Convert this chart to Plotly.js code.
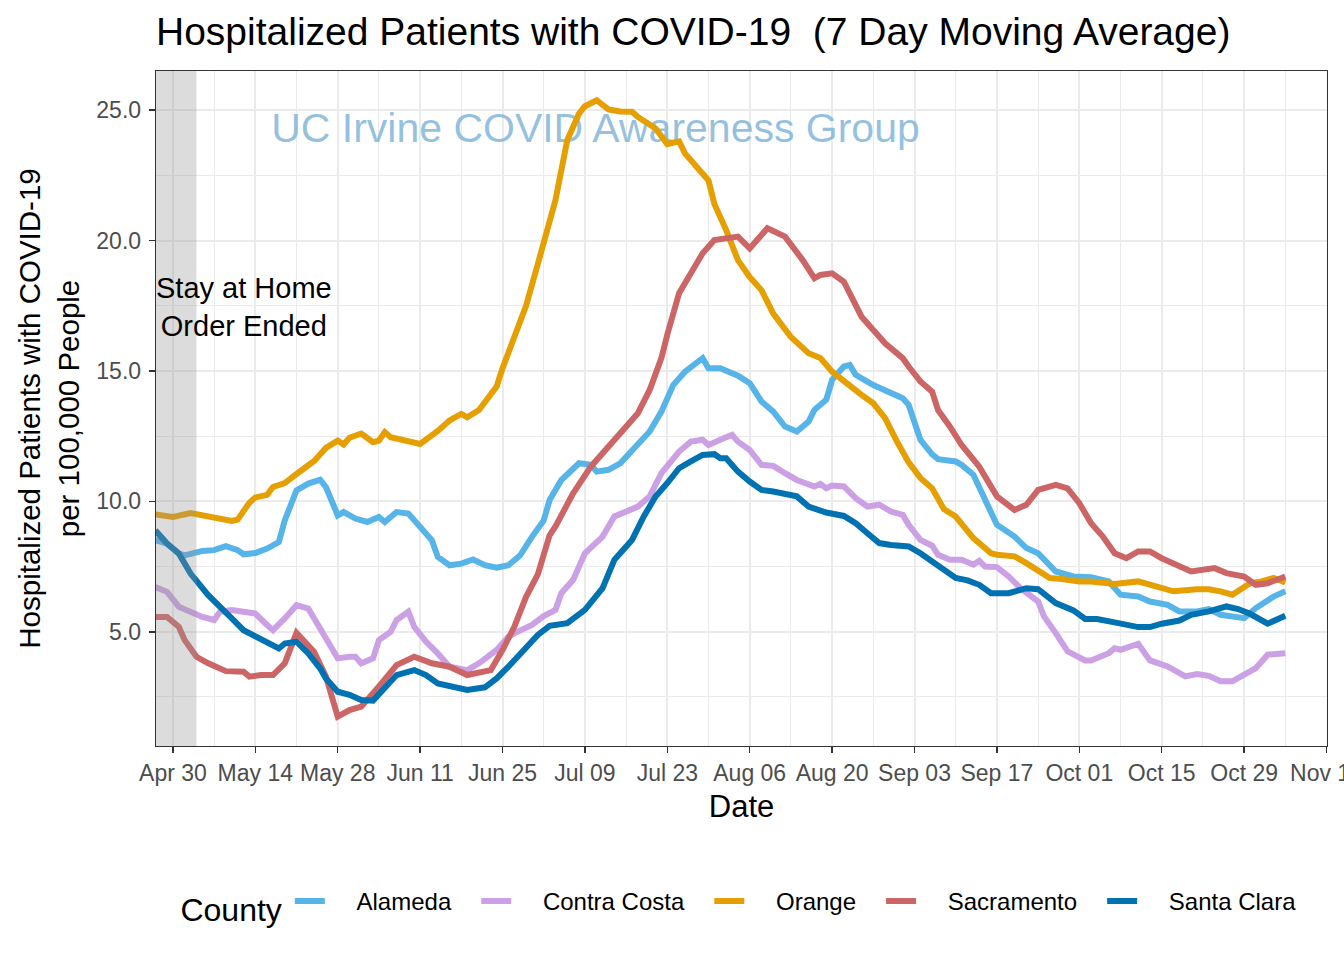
<!DOCTYPE html>
<html>
<head>
<meta charset="utf-8">
<script src="https://cdn.plot.ly/plotly-3.0.1.min.js"></script>
<style>html,body{margin:0;padding:0;background:#fff;}#chart{width:1344px;height:960px;}</style>
</head>
<body>
<div id="chart"></div>
<script>
// Day offsets are counted from 2020-04-27
const startDate = '2020-04-27';
const counties = ['Alameda', 'Contra Costa', 'Orange', 'Sacramento', 'Santa Clara'];
const colors = ['#56B4E9', '#CBA0E5', '#E69F00', '#CC6666', '#0072B2'];

const alamedaDays = [0,2,4,5,8,10,12,14,15,17,19,21,22,24,26,28,29,31,32,34,36,38,39,41,43,46,47,48,50,52,54,56,58,60,62,64,66,67,69,72,74,75,77,79,81,84,86,88,90,92,93,94,96,98,99,101,103,105,107,109,111,112,114,115,117,118,119,122,124,127,128,129,130,132,133,136,137,139,141,143,146,148,150,153,156,159,162,164,167,169,172,174,177,179,181,185,187,190,192];
const alamedaVals = [8.51,8.38,8.0,7.93,8.1,8.13,8.28,8.13,7.97,8.02,8.19,8.44,9.27,10.42,10.68,10.83,10.55,9.46,9.59,9.34,9.21,9.4,9.21,9.59,9.53,8.76,8.51,7.87,7.55,7.61,7.77,7.55,7.46,7.55,7.93,8.64,9.27,10.05,10.82,11.46,11.4,11.14,11.21,11.46,11.97,12.68,13.44,14.46,14.97,15.29,15.49,15.1,15.1,14.91,14.82,14.53,13.83,13.44,12.87,12.68,13.06,13.51,13.89,14.66,15.17,15.23,14.85,14.46,14.27,13.95,13.7,12.99,12.36,11.8,11.62,11.53,11.4,11.02,10.06,9.1,8.65,8.21,8.01,7.31,7.12,7.09,6.93,6.42,6.35,6.16,6.03,5.78,5.78,5.87,5.65,5.52,5.91,6.35,6.55];

const contraCostaDays = [0,2,4,6,8,10,11,13,15,17,19,20,22,24,26,27,29,31,33,34,35,37,38,40,41,43,44,46,48,50,53,55,58,60,61,64,66,68,69,71,73,76,78,82,84,86,89,91,93,94,96,98,99,101,103,105,107,109,112,113,114,115,117,119,121,123,125,127,128,130,132,133,135,137,139,140,141,143,145,147,150,151,153,155,158,159,162,163,164,167,169,172,175,177,179,181,183,185,187,189,192];
const contraCostaVals = [6.72,6.53,5.96,5.77,5.57,5.45,5.77,5.83,5.77,5.7,5.26,5.06,5.51,6.02,5.89,5.51,4.68,3.98,4.04,4.04,3.79,3.98,4.68,5.0,5.45,5.77,5.19,4.62,4.17,3.66,3.53,3.79,4.3,4.81,4.94,5.26,5.6,5.84,6.48,6.99,8.01,8.65,9.42,9.8,10.19,11.08,11.91,12.29,12.36,12.16,12.36,12.55,12.29,11.97,11.4,11.36,11.08,10.82,10.57,10.67,10.5,10.61,10.57,10.12,9.8,9.87,9.61,9.48,9.1,8.52,8.3,7.95,7.76,7.76,7.57,7.72,7.5,7.48,7.12,6.67,6.16,5.59,4.95,4.25,3.9,3.9,4.18,4.37,4.31,4.54,3.9,3.67,3.29,3.38,3.31,3.1,3.1,3.38,3.61,4.12,4.18];

const orangeDays = [0,3,6,9,13,14,16,17,19,20,22,24,27,29,31,32,33,35,37,38,39,40,43,45,48,50,52,53,55,56,58,59,61,63,65,68,70,72,73,75,77,79,81,82,85,87,89,90,94,95,97,99,101,103,105,108,111,113,115,117,120,122,124,126,128,130,132,134,136,139,140,142,143,146,148,152,154,157,159,163,167,170,173,177,179,181,183,186,188,190,192];
const orangeVals = [9.5,9.4,9.55,9.4,9.25,9.3,9.95,10.15,10.25,10.55,10.7,11.05,11.55,12.05,12.33,12.18,12.44,12.6,12.27,12.33,12.65,12.46,12.3,12.2,12.7,13.1,13.35,13.22,13.5,13.8,14.4,15.1,16.3,17.5,19.1,21.55,23.85,24.87,25.15,25.38,25.03,24.95,24.94,24.74,24.3,23.7,23.8,23.34,22.3,21.4,20.4,19.25,18.6,18.1,17.2,16.3,15.68,15.5,14.97,14.6,14.08,13.76,13.19,12.3,11.5,10.9,10.5,9.7,9.42,8.59,8.4,8.01,7.95,7.89,7.63,7.06,7.02,6.93,6.93,6.83,6.93,6.71,6.55,6.63,6.63,6.55,6.42,6.86,6.93,7.06,6.89];

const sacramentoDays = [0,2,4,5,7,9,12,15,16,18,20,22,24,27,29,31,33,35,38,41,44,47,50,53,57,59,61,63,65,67,68,71,74,78,82,84,86,87,89,93,95,99,101,104,107,110,112,113,115,117,120,124,127,128,130,132,133,135,137,140,143,146,148,150,153,155,157,159,161,163,165,167,169,171,173,176,180,182,185,187,189,192];
const sacramentoVals = [5.57,5.57,5.19,4.68,4.04,3.79,3.49,3.47,3.28,3.34,3.34,3.79,4.96,4.23,3.28,1.75,2.0,2.13,2.9,3.72,4.04,3.79,3.66,3.34,3.53,4.3,5.19,6.34,7.2,8.7,9.04,10.31,11.33,12.36,13.38,14.27,15.5,16.4,17.98,19.51,20.02,20.15,19.7,20.47,20.15,19.25,18.55,18.68,18.74,18.42,17.08,16.06,15.49,15.17,14.6,14.2,13.5,12.87,12.16,11.33,10.19,9.67,9.87,10.44,10.63,10.5,9.93,9.16,8.65,8.01,7.82,8.08,8.08,7.82,7.63,7.31,7.44,7.25,7.12,6.8,6.86,7.12];

const santaClaraDays = [0,2,4,6,9,12,13,15,18,21,22,24,26,28,29,31,33,35,37,39,41,44,46,48,50,53,56,58,60,63,65,67,70,73,76,78,81,83,85,87,89,91,93,95,96,97,99,101,103,105,107,109,111,114,117,119,121,123,125,128,130,132,134,136,138,140,142,145,148,150,153,156,158,160,163,164,167,169,171,174,176,179,182,184,186,189,192];
const santaClaraVals = [8.89,8.38,8.0,7.23,6.4,5.77,5.51,5.06,4.74,4.36,4.55,4.62,4.17,3.6,3.21,2.7,2.58,2.38,2.36,2.83,3.34,3.53,3.34,3.02,2.9,2.77,2.87,3.21,3.66,4.36,4.88,5.23,5.33,5.84,6.67,7.76,8.52,9.42,10.19,10.7,11.27,11.53,11.78,11.81,11.65,11.65,11.14,10.76,10.44,10.38,10.31,10.19,9.8,9.57,9.44,9.16,8.78,8.4,8.33,8.27,8.01,7.7,7.38,7.06,6.97,6.8,6.48,6.48,6.67,6.63,6.1,5.82,5.49,5.49,5.36,5.31,5.18,5.18,5.31,5.43,5.65,5.78,5.97,5.87,5.69,5.31,5.61];

const dayArrays = [alamedaDays, contraCostaDays, orangeDays, sacramentoDays, santaClaraDays];
const valArrays = [alamedaVals, contraCostaVals, orangeVals, sacramentoVals, santaClaraVals];

const stayAtHomeEnd = '2020-05-04';
const titleText = 'Hospitalized Patients with COVID-19  (7 Day Moving Average)';
const watermarkText = 'UC Irvine COVID Awareness Group';

function toDate(d) {
  const t = Date.UTC(2020, 3, 27) + d * 86400000;
  return new Date(t).toISOString().slice(0, 10);
}

const FONT = 'Liberation Sans, Arial, Helvetica, sans-serif';
const DAY = 86400000;
const NB = '\u00a0';

const traces = [];
// watermark as a text trace so the lines draw above it
traces.push({
  x: ['2020-07-10 19:00'], y: [24.16], mode: 'text', text: [watermarkText],
  textfont: {family: FONT, size: 41, color: 'rgba(120,176,214,0.78)'},
  showlegend: false, hoverinfo: 'skip', cliponaxis: false
});
counties.forEach((name, i) => {
  traces.push({
    x: dayArrays[i].map(toDate), y: valArrays[i],
    name: NB.repeat(4) + name + NB.repeat(3),
    type: 'scatter', mode: 'lines',
    line: {color: colors[i], width: 6}
  });
});

const layout = {
  width: 1344, height: 960,
  paper_bgcolor: '#fff', plot_bgcolor: '#fff',
  margin: {l: 156, r: 17, t: 71, b: 214, autoexpand: false},
  font: {family: FONT, color: '#000'},
  title: {
    text: titleText, font: {family: FONT, size: 39, color: '#000'},
    x: 156/1344, xanchor: 'left', xref: 'container',
    y: 1 - 31/960, yanchor: 'middle', yref: 'container'
  },
  xaxis: {
    type: 'date',
    range: ['2020-04-27 03:00', '2020-11-12 02:00'],
    tick0: '2020-04-30', dtick: 14 * DAY, tickformat: '%b %d', tickangle: 0,
    ticklabeloverflow: 'allow',
    ticks: 'outside', ticklen: 6, tickwidth: 1.5, tickcolor: '#333',
    tickfont: {family: FONT, size: 23, color: '#4D4D4D'},
    showgrid: true, gridcolor: '#EBEBEB', gridwidth: 2,
    minor: {tick0: '2020-04-30', dtick: 7 * DAY, showgrid: true, gridcolor: '#EBEBEB', gridwidth: 1},
    showline: true, linecolor: '#333', linewidth: 1.3, mirror: true,
    zeroline: false, automargin: false,
    title: {text: 'Date', font: {family: FONT, size: 31, color: '#000'}, standoff: 10}
  },
  yaxis: {
    range: [0.62, 26.5],
    tick0: 0, dtick: 5, tickformat: '.1f',
    ticks: 'outside', ticklen: 6, tickwidth: 1.5, tickcolor: '#333',
    ticklabelstandoff: 3,
    tickfont: {family: FONT, size: 23, color: '#4D4D4D'},
    showgrid: true, gridcolor: '#EBEBEB', gridwidth: 2,
    minor: {tick0: 0, dtick: 2.5, showgrid: true, gridcolor: '#EBEBEB', gridwidth: 1},
    showline: true, linecolor: '#333', linewidth: 1.3, mirror: true,
    zeroline: false, automargin: false,
    title: {text: 'Hospitalized Patients with COVID-19<br>per 100,000 People', font: {family: FONT, size: 29.5, color: '#000'}, standoff: 8}
  },
  shapes: [{
    type: 'rect', xref: 'x', yref: 'paper',
    x0: startDate, x1: stayAtHomeEnd, y0: 0, y1: 1,
    fillcolor: 'rgba(150,150,150,0.33)', line: {width: 0}, layer: 'above'
  }],
  annotations: [{
    x: '2020-05-12', y: 17.45, xref: 'x', yref: 'y',
    text: 'Stay at Home<br>Order Ended', showarrow: false,
    font: {family: FONT, size: 29, color: '#000'}, align: 'center'
  }],
  legend: {
    orientation: 'h', x: 0.558, xanchor: 'center', xref: 'container',
    y: -0.2355, yanchor: 'middle',
    font: {family: FONT, size: 24, color: '#000'},
    title: {text: 'County', font: {family: FONT, size: 32, color: '#000'}, side: 'left'},
    bgcolor: 'rgba(0,0,0,0)'
  },
  showlegend: true
};

Plotly.newPlot('chart', traces, layout, {displayModeBar: false, staticPlot: true});
</script>
</body>
</html>
